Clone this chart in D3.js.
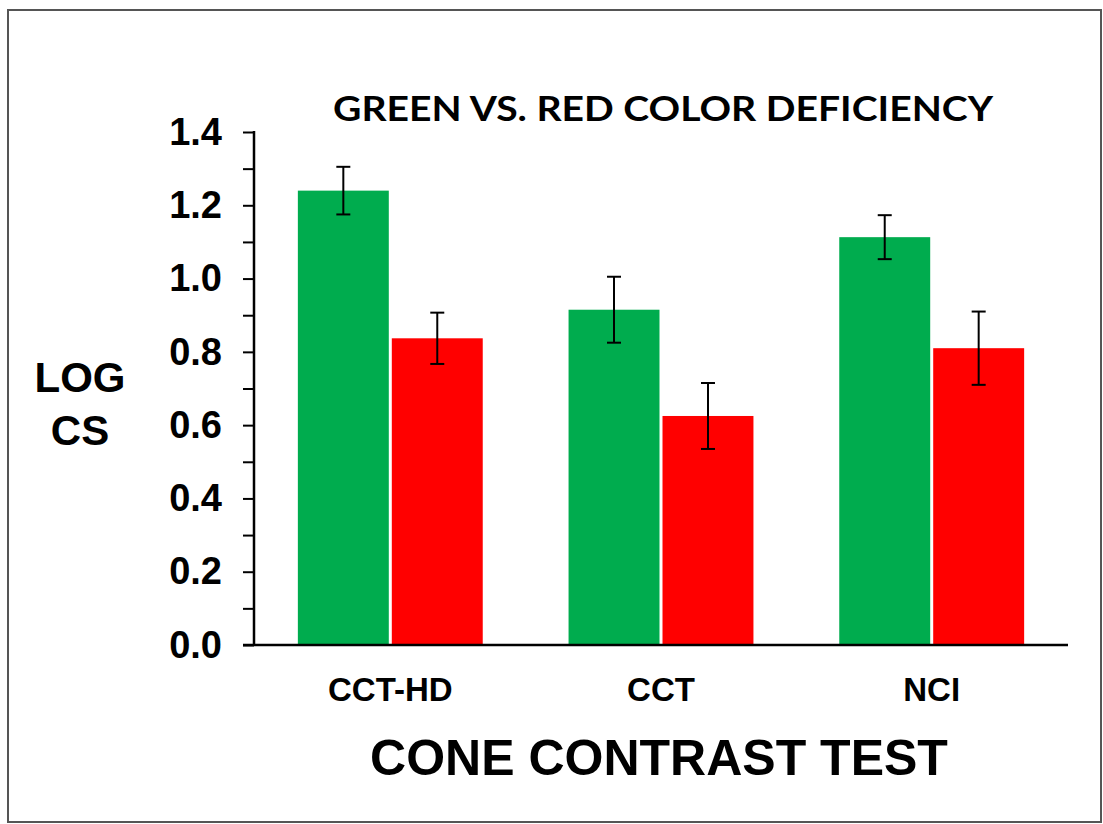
<!DOCTYPE html>
<html>
<head>
<meta charset="utf-8">
<script src="https://cdn.jsdelivr.net/npm/d3@7"></script>
<style>
  html, body { margin: 0; padding: 0; background: #fff; }
  svg { display: block; }
  text { font-family: "Liberation Sans", Arial, sans-serif; font-weight: bold; fill: #000; }
</style>
</head>
<body>
<svg id="chart" width="1103" height="824"></svg>
<script>
// Cone contrast tests and the two observer groups
const categories = ["CCT-HD", "CCT", "NCI"];
const groups = ["Green", "Red"];
const greenValues = [1.24, 0.915, 1.113];
const greenErrors = [0.065, 0.09, 0.06];
const redValues = [0.837, 0.625, 0.81];
const redErrors = [0.07, 0.09, 0.10];
const yTicks = [0, 0.2, 0.4, 0.6, 0.8, 1.0, 1.2, 1.4];
const yMinorTicks = [0.1, 0.3, 0.5, 0.7, 0.9, 1.1, 1.3];
const colors = { Green: "#00AC4E", Red: "#FF0000" };

const rows = categories.map((c, i) => ({
  category: c,
  bars: [
    { group: "Green", value: greenValues[i], err: greenErrors[i] },
    { group: "Red", value: redValues[i], err: redErrors[i] }
  ]
}));

const svg = d3.select("#chart");

// outer frame
svg.append("rect")
  .attr("x", 8).attr("y", 10)
  .attr("width", 1093).attr("height", 812)
  .attr("fill", "none").attr("stroke", "#555").attr("stroke-width", 2);

const plot = { left: 254, right: 1068, top: 132, bottom: 645 };

const y = d3.scaleLinear().domain([0, 1.4]).range([plot.bottom, plot.top]);
const x = d3.scaleBand().domain(categories)
  .range([plot.left, plot.right])
  .paddingInner(0.317).paddingOuter(0.162);
const xSub = d3.scaleBand().domain(groups)
  .range([0, x.bandwidth()]).paddingInner(0.032);

// bars
const g = svg.append("g");
const groupSel = g.selectAll("g.cat").data(rows).join("g")
  .attr("class", "cat")
  .attr("transform", d => `translate(${x(d.category)},0)`);

groupSel.selectAll("rect").data(d => d.bars).join("rect")
  .attr("x", d => xSub(d.group))
  .attr("y", d => y(d.value))
  .attr("width", xSub.bandwidth())
  .attr("height", d => y(0) - y(d.value))
  .attr("fill", d => colors[d.group]);

// error bars
const eb = groupSel.selectAll("g.err").data(d => d.bars).join("g")
  .attr("class", "err")
  .attr("transform", d => `translate(${xSub(d.group) + xSub.bandwidth() / 2},0)`);
eb.append("line")
  .attr("x1", 0).attr("x2", 0)
  .attr("y1", d => y(d.value + d.err)).attr("y2", d => y(d.value - d.err))
  .attr("stroke", "#000").attr("stroke-width", 2);
eb.selectAll("line.cap").data(d => [d.value + d.err, d.value - d.err]).join("line")
  .attr("class", "cap")
  .attr("x1", -7).attr("x2", 7)
  .attr("y1", v => y(v)).attr("y2", v => y(v))
  .attr("stroke", "#000").attr("stroke-width", 2);

// y axis (major ticks labelled, minor ticks plain)
const yAxis = svg.append("g")
  .attr("transform", `translate(${plot.left},0)`)
  .call(d3.axisLeft(y).tickValues(yTicks).tickFormat(d3.format(".1f"))
    .tickSizeInner(11).tickSizeOuter(0).tickPadding(21));
yAxis.select(".domain").attr("stroke-width", 2.5).attr("d", `M0,${plot.top - 1}V${plot.bottom}`);
yAxis.selectAll(".tick line").attr("stroke-width", 2);
yAxis.selectAll(".tick text")
  .style("font-size", "38px").style("font-family", "Liberation Sans, Arial, sans-serif")
  .style("font-weight", "bold").attr("fill", "#000");
svg.append("g")
  .attr("transform", `translate(${plot.left},0)`)
  .call(d3.axisLeft(y).tickValues(yMinorTicks).tickFormat("").tickSizeInner(11).tickSizeOuter(0))
  .call(a => a.select(".domain").remove())
  .selectAll(".tick line").attr("stroke-width", 2);

// x axis
const xAxis = svg.append("g")
  .attr("transform", `translate(0,${plot.bottom})`)
  .call(d3.axisBottom(x).tickSize(0).tickPadding(33));
xAxis.select(".domain").attr("stroke-width", 2.5).attr("d", `M${plot.left - 11},0H${plot.right}`);
xAxis.selectAll(".tick text")
  .style("font-size", "33px").style("font-family", "Liberation Sans, Arial, sans-serif")
  .style("font-weight", "bold").attr("fill", "#000");

// titles
svg.append("text")
  .attr("x", 663).attr("y", 121)
  .attr("text-anchor", "middle")
  .attr("textLength", 660).attr("lengthAdjust", "spacingAndGlyphs")
  .style("font-family", "Lato, 'Open Sans', sans-serif")
  .style("font-size", "34px")
  .text("GREEN VS. RED COLOR DEFICIENCY");

svg.append("text")
  .attr("x", 659).attr("y", 775)
  .attr("text-anchor", "middle")
  .style("font-size", "50px")
  .text("CONE CONTRAST TEST");

svg.append("text")
  .attr("x", 80).attr("y", 392)
  .attr("text-anchor", "middle")
  .style("font-size", "42px")
  .text("LOG");
svg.append("text")
  .attr("x", 80).attr("y", 445)
  .attr("text-anchor", "middle")
  .style("font-size", "42px")
  .text("CS");
</script>
</body>
</html>
